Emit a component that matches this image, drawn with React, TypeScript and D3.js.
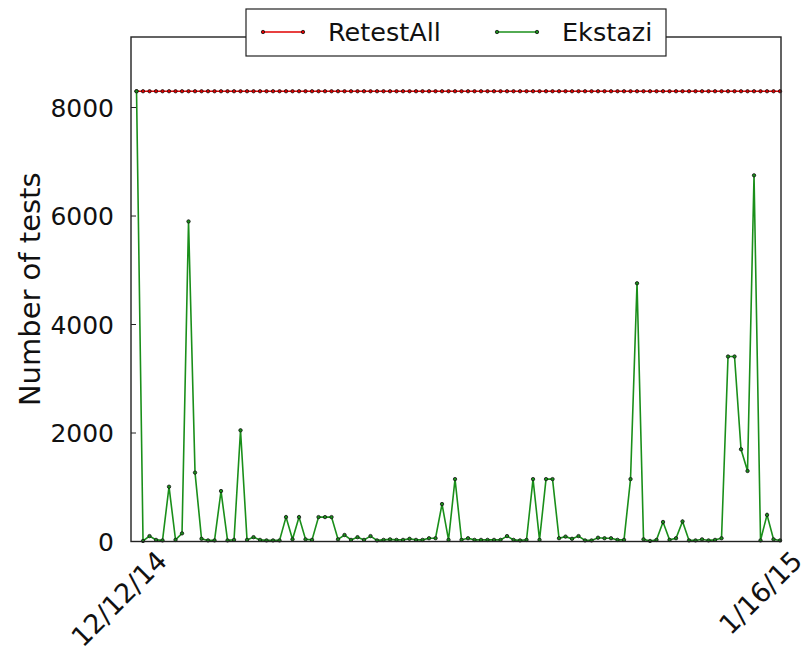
import React from "react";
import * as d3 from "d3";

// commits between 12/12/14 and 1/16/15
const ekstazi = [
  8300, 10, 100, 30, 20, 1010, 30, 150, 5900, 1270,
  50, 20, 20, 930, 20, 30, 2050, 30, 80, 30,
  20, 20, 20, 450, 40, 450, 40, 30, 450, 450,
  450, 40, 120, 30, 80, 30, 100, 20, 30, 40,
  30, 30, 50, 30, 30, 60, 60, 690, 30, 1150,
  30, 60, 30, 30, 30, 30, 30, 100, 30, 20,
  30, 1150, 30, 1150, 1150, 60, 90, 50, 100, 20,
  20, 70, 60, 60, 30, 30, 1150, 4760, 40, 10,
  30, 360, 30, 60, 370, 20, 20, 40, 20, 30,
  60, 3410, 3410, 1700, 1300, 6750, 20, 490, 40, 20,
];

const retestAll = [
  8300, 8300, 8300, 8300, 8300, 8300, 8300, 8300, 8300, 8300,
  8300, 8300, 8300, 8300, 8300, 8300, 8300, 8300, 8300, 8300,
  8300, 8300, 8300, 8300, 8300, 8300, 8300, 8300, 8300, 8300,
  8300, 8300, 8300, 8300, 8300, 8300, 8300, 8300, 8300, 8300,
  8300, 8300, 8300, 8300, 8300, 8300, 8300, 8300, 8300, 8300,
  8300, 8300, 8300, 8300, 8300, 8300, 8300, 8300, 8300, 8300,
  8300, 8300, 8300, 8300, 8300, 8300, 8300, 8300, 8300, 8300,
  8300, 8300, 8300, 8300, 8300, 8300, 8300, 8300, 8300, 8300,
  8300, 8300, 8300, 8300, 8300, 8300, 8300, 8300, 8300, 8300,
  8300, 8300, 8300, 8300, 8300, 8300, 8300, 8300, 8300, 8300,
];

const xTickLabels = ["12/12/14", "1/16/15"];
const yTicks = [0, 2000, 4000, 6000, 8000];

const series = [
  { name: "RetestAll", values: retestAll, color: "#e00000" },
  { name: "Ekstazi", values: ekstazi, color: "#1a8f1a" },
];

const width = 812;
const height = 656;
const margin = { top: 37, right: 31, bottom: 114.5, left: 131 };
const font = "'DejaVu Sans', sans-serif";

const App = () => {
  const n = ekstazi.length;
  const x = d3
    .scaleLinear()
    .domain([-0.85, n - 1 + 0.15])
    .range([margin.left, width - margin.right]);
  const y = d3
    .scaleLinear()
    .domain([0, 9300])
    .range([height - margin.bottom, margin.top]);

  const line = d3
    .line<number>()
    .x((_, i) => x(i))
    .y((d) => y(d));

  const x0 = margin.left;
  const x1 = width - margin.right;
  const y0 = height - margin.bottom;
  const tickIdx = [0, n - 1];
  const tickDx = [32, 24];

  return (
    <svg
      width={width}
      height={height}
      style={{ position: "absolute", left: 0, top: 0, background: "white" }}
      fontFamily={font}
    >
      <rect width={width} height={height} fill="white" />

      {/* series */}
      {series.map((s) => (
        <g key={s.name}>
          <path d={line(s.values) || ""} fill="none" stroke={s.color} strokeWidth={1.6} />
          {s.values.map((v, i) => (
            <circle key={i} cx={x(i)} cy={y(v)} r={1.7} fill={s.color} stroke="#111" strokeWidth={0.8} />
          ))}
        </g>
      ))}

      {/* frame */}
      <rect x={x0} y={margin.top} width={x1 - x0} height={y0 - margin.top} fill="none" stroke="#222" strokeWidth={1.4} />

      {/* y axis */}
      {yTicks.map((t) => (
        <g key={t}>
          <line x1={x0} x2={x0 + 5} y1={y(t)} y2={y(t)} stroke="#222" strokeWidth={1} />
          <text x={x0 - 17} y={y(t)} dy="0.36em" textAnchor="end" fontSize={25} fill="#111">
            {t}
          </text>
        </g>
      ))}
      <text
        transform={`translate(${40},${(y0 + margin.top) / 2}) rotate(-90)`}
        textAnchor="middle"
        fontSize={29}
        fill="#111"
      >
        Number of tests
      </text>

      {/* x tick labels */}
      {xTickLabels.map((l, k) => (
        <text
          key={l}
          transform={`translate(${x(tickIdx[k]) + tickDx[k]},${y0 + 21}) rotate(-45)`}
          textAnchor="end"
          fontSize={27}
          fill="#111"
        >
          {l}
        </text>
      ))}

      {/* legend */}
      <g>
        <rect x={246} y={9} width={420} height={47} fill="white" stroke="#222" strokeWidth={1.2} />
        {series.map((s, k) => {
          const lx = 263 + k * 234;
          return (
            <g key={s.name}>
              <line x1={lx} x2={lx + 40} y1={32} y2={32} stroke={s.color} strokeWidth={1.6} />
              <circle cx={lx} cy={32} r={1.7} fill={s.color} stroke="#111" strokeWidth={0.8} />
              <circle cx={lx + 40} cy={32} r={1.7} fill={s.color} stroke="#111" strokeWidth={0.8} />
              <text x={lx + 65} y={41} fontSize={25.5} fill="#111">
                {s.name}
              </text>
            </g>
          );
        })}
      </g>
    </svg>
  );
};

export default App;
